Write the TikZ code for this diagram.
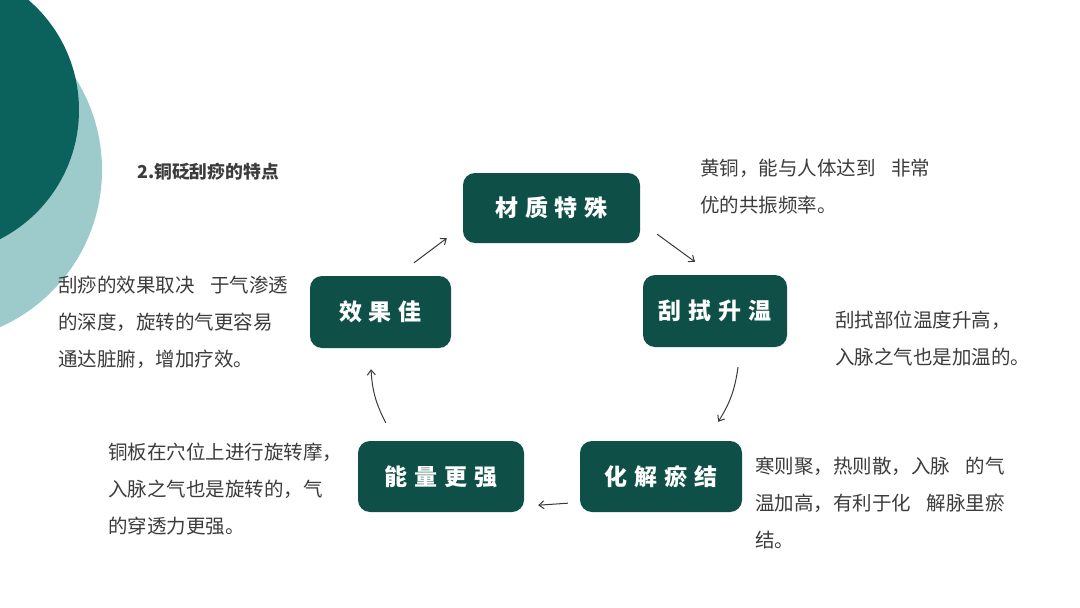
\documentclass[tikz,border=0pt]{standalone}
\usepackage{fontspec}
\usetikzlibrary{arrows.meta}
\newfontfamily\cjk{Noto Sans CJK SC}
\newfontfamily\boxcjk[LetterSpace=30]{Noto Sans CJK SC}
\definecolor{darkteal}{HTML}{0B625D}
\definecolor{lightteal}{HTML}{9DCACA}
\definecolor{boxgreen}{HTML}{0E4F48}
\definecolor{txt}{HTML}{3C3C3C}
\definecolor{arrowgray}{HTML}{3A3A3A}
\newcommand{\gapq}{\hspace{0.8em}}
\tikzset{
  stepbox/.style={draw=none, fill=boxgreen, rounded corners=12pt, inner sep=0pt,
    text=white, font=\boxcjk\bfseries\fontsize{23}{26}\selectfont},
  desc/.style={anchor=north west, inner sep=0pt, align=left, text=txt,
    font=\cjk\fontsize{19.5}{37}\selectfont},
  arr/.style={draw=arrowgray, line width=1pt, -{Straight Barb[length=5pt,width=8pt]}},
}
\begin{document}
\begin{tikzpicture}[x=1pt,y=-1pt]
\useasboundingbox (0,0) rectangle (1080,608);
\fill[white] (0,0) rectangle (1080,608);
% background circles
\begin{scope}
\clip (0,0) rectangle (1080,608);
\fill[lightteal] (-70,170) circle (172);
\fill[darkteal] (-66,110) circle (145);
\end{scope}
% title
\node[anchor=west, inner sep=0pt, text=txt, font=\cjk\bfseries\fontsize{17.8}{20}\selectfont] (title) at (137,172) {2.铜砭刮痧的特点};
% step boxes
\node[stepbox, minimum width=177pt, minimum height=70pt] (m) at (551.5,208) {材质特殊};
\node[stepbox, minimum width=144pt, minimum height=72pt] (r) at (715,311) {刮拭升温};
\node[stepbox, minimum width=162pt, minimum height=71pt] (h) at (661,476.5) {化解瘀结};
\node[stepbox, minimum width=166pt, minimum height=71pt] (n) at (441,476.5) {能量更强};
\node[stepbox, minimum width=141pt, minimum height=72pt] (e) at (380.5,312) {效果佳};
% arrows
\draw[arr] ([shift={(33.5,-13)}]e.north) -- ([shift={(-16,-5)}]m.south west);
\draw[arr] ([shift={(17,-9)}]m.south east) -- ([shift={(-20,-13)}]r.north);
\draw[arr] ([shift={(23,20)}]r.south) to[bend left=12] ([shift={(-24,-19)}]h.north east);
\draw[arr] ([shift={(-12,-9)}]h.south west) -- ([shift={(14,-7)}]n.south east);
\draw[arr] ([shift={(28,-18)}]n.north west) to[bend left=12] ([shift={(-9.5,21)}]e.south);
% descriptions
\node[desc] (d1) at (700,159) {黄铜，能与人体达到\gapq 非常\\优的共振频率。};
\node[desc] (d2) at (835,311) {刮拭部位温度升高，\\入脉之气也是加温的。};
\node[desc] (d3) at (755,457) {寒则聚，热则散，入脉\gapq 的气\\温加高，有利于化\gapq 解脉里瘀\\结。};
\node[desc] (d4) at (108,443) {铜板在穴位上进行旋转摩，\\入脉之气也是旋转的，气\\的穿透力更强。};
\node[desc] (d5) at (58,276) {刮痧的效果取决\gapq 于气渗透\\的深度，旋转的气更容易\\通达脏腑，增加疗效。};
\end{tikzpicture}
\end{document}
